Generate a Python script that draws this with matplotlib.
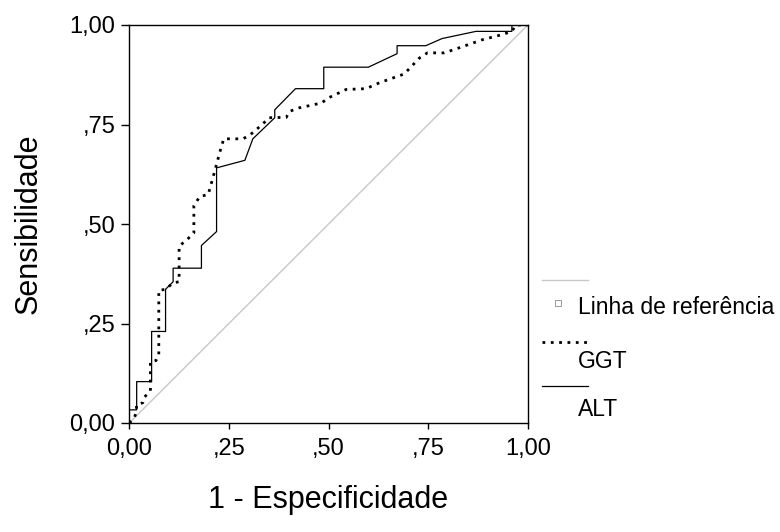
import matplotlib
matplotlib.use("Agg")
import matplotlib.pyplot as plt
from matplotlib.lines import Line2D

plt.rcParams['font.family'] = ['Liberation Sans', 'DejaVu Sans']

# curva ROC - ALT (linha continua)
alt_x = [0, 0, 0.0185, 0.0185, 0.056, 0.056, 0.091, 0.091, 0.110, 0.110, 0.181, 0.181, 0.219, 0.219,
         0.290, 0.310, 0.365, 0.365, 0.417, 0.488, 0.488, 0.600, 0.672, 0.672, 0.744, 0.785, 0.870,
         0.960, 0.960, 1.0]
alt_y = [0, 0.033, 0.033, 0.104, 0.104, 0.230, 0.230, 0.336, 0.355, 0.389, 0.389, 0.446, 0.481, 0.641,
         0.660, 0.714, 0.767, 0.787, 0.840, 0.840, 0.894, 0.894, 0.928, 0.948, 0.948, 0.966, 0.984,
         0.984, 1.0, 1.0]

# curva ROC - GGT (pontilhada)
ggt_x = [0, 0.012, 0.018, 0.018, 0.034, 0.038, 0.053, 0.053, 0.067, 0.074, 0.074, 0.091, 0.110, 0.125,
         0.125, 0.146, 0.162, 0.162, 0.177, 0.198, 0.210, 0.229, 0.237, 0.285, 0.302, 0.322, 0.344,
         0.350, 0.394, 0.402, 0.427, 0.482, 0.502, 0.544, 0.594, 0.628, 0.690, 0.728, 0.748, 0.790,
         0.820, 0.886, 0.936, 0.960, 0.970, 1.0]
ggt_y = [0, 0.012, 0.028, 0.045, 0.051, 0.065, 0.081, 0.154, 0.157, 0.171, 0.333, 0.336, 0.352, 0.355,
         0.444, 0.462, 0.477, 0.546, 0.569, 0.574, 0.617, 0.687, 0.714, 0.714, 0.723, 0.740, 0.760,
         0.767, 0.768, 0.783, 0.792, 0.804, 0.818, 0.838, 0.840, 0.855, 0.877, 0.917, 0.930, 0.930,
         0.940, 0.963, 0.976, 0.984, 1.0, 1.0]

ref_x = [0, 1]
ref_y = [0, 1]

ticks = [0, 0.25, 0.5, 0.75, 1.0]
tick_labels = ['0,00', ',25', ',50', ',75', '1,00']

W, H = 780, 532
fig = plt.figure(figsize=(7.8, 5.32), dpi=100)
ax = fig.add_axes([129.3 / W, 1 - 423 / H, 398.5 / W, 398 / H])

ax.plot(ref_x, ref_y, color='#c8c8c8', lw=1.0)
ax.plot(ggt_x, ggt_y, color='black', lw=2.0, linestyle=(0, (1, 2)), dash_capstyle='butt')
ax.plot(alt_x, alt_y, color='black', lw=0.9)

ax.set_xlim(0, 1)
ax.set_ylim(0, 1)
ax.set_xticks(ticks)
ax.set_xticklabels(tick_labels)
ax.set_yticks(ticks)
ax.set_yticklabels(tick_labels)
ax.tick_params(axis='both', labelsize=17, colors='black', width=1.0)
ax.tick_params(axis='x', length=4, pad=7)
ax.tick_params(axis='y', length=6, pad=4)
for s in ax.spines.values():
    s.set_linewidth(1.0)

ax.set_xlabel('1 - Especificidade', fontsize=22, labelpad=18)
ax.set_ylabel('Sensibilidade', fontsize=22, labelpad=19)

# legenda no estilo SPSS (linha em cima, rotulo embaixo)
def fx(px):
    return px / W

def fy(py):
    return 1 - py / H

fig.add_artist(Line2D([fx(542), fx(588)], [fy(280), fy(280)], color='#c8c8c8', lw=1.0))
fig.add_artist(Line2D([fx(558)], [fy(303)], marker='s', markersize=4, markerfacecolor='white',
                      markeredgecolor='#999999', markeredgewidth=0.7, linestyle='none'))
fig.text(fx(578), fy(307), 'Linha de referência', fontsize=16.5, va='center', ha='left')
fig.add_artist(Line2D([fx(542), fx(588)], [fy(342), fy(342)], color='black', lw=2.0,
                      linestyle=(0, (1, 2)), dash_capstyle='butt'))
fig.text(fx(578), fy(362), 'GGT', fontsize=16.5, va='center', ha='left')
fig.add_artist(Line2D([fx(542), fx(588)], [fy(386), fy(386)], color='black', lw=0.9))
fig.text(fx(578), fy(410), 'ALT', fontsize=16.5, va='center', ha='left')

fig.savefig('out.png', dpi=100)
